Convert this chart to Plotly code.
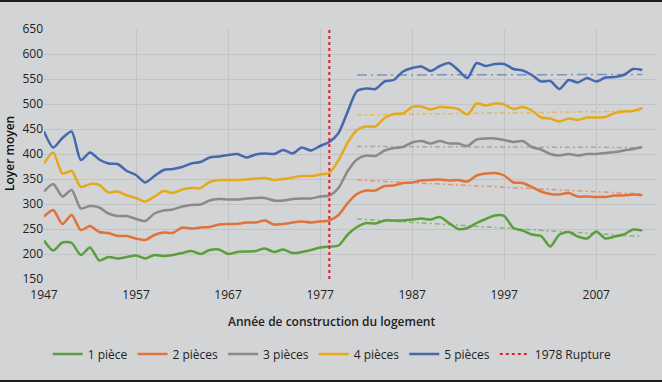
import plotly.graph_objects as go

years = list(range(1947, 2013))

piece1 = [227, 207, 223, 222, 198, 213, 187, 194, 191, 194, 197, 191, 198, 196, 198, 202, 206, 200, 208, 209,
          200, 204, 205, 206, 211, 204, 209, 202, 204, 208, 213, 215, 217, 239, 254, 262, 261, 267, 267, 267,
          269, 271, 269, 274, 262, 250, 252, 262, 270, 277, 276, 252, 247, 239, 236, 215, 239, 244, 235, 231,
          245, 231, 235, 239, 249, 247]
piece2 = [275, 288, 260, 278, 248, 256, 244, 242, 236, 236, 231, 228, 238, 243, 242, 253, 251, 253, 254, 259,
          260, 260, 263, 263, 267, 259, 260, 263, 265, 263, 265, 267, 278, 302, 320, 327, 327, 336, 337, 342,
          343, 347, 348, 349, 347, 348, 345, 357, 361, 362, 357, 343, 342, 334, 325, 320, 319, 322, 315, 315,
          314, 314, 317, 317, 319, 318]
piece3 = [325, 340, 315, 328, 291, 296, 293, 281, 276, 276, 270, 266, 281, 287, 289, 295, 298, 299, 307, 310,
          309, 309, 311, 312, 312, 307, 307, 310, 311, 311, 315, 317, 332, 366, 389, 397, 396, 407, 412, 414,
          423, 426, 421, 426, 421, 421, 416, 429, 431, 431, 428, 424, 426, 414, 409, 400, 397, 400, 397, 400,
          400, 402, 404, 407, 410, 414]
piece4 = [381, 403, 361, 366, 334, 340, 338, 323, 325, 317, 312, 305, 315, 326, 322, 329, 332, 332, 344, 348,
          348, 348, 349, 351, 352, 348, 350, 353, 356, 356, 359, 362, 388, 423, 448, 455, 455, 472, 480, 481,
          494, 495, 489, 494, 493, 490, 479, 501, 497, 501, 499, 490, 494, 487, 473, 471, 465, 471, 468, 473,
          473, 474, 482, 485, 486, 492]
piece5 = [445, 413, 432, 445, 388, 403, 389, 381, 380, 366, 358, 343, 356, 368, 370, 374, 381, 384, 393, 395,
          398, 400, 393, 399, 401, 400, 408, 401, 413, 407, 416, 424, 442, 485, 526, 531, 530, 545, 548, 565,
          572, 575, 566, 576, 582, 568, 552, 582, 576, 580, 580, 570, 567, 558, 545, 546, 530, 548, 543, 552,
          545, 553, 554, 558, 570, 568]

series_names = ["1 pièce", "2 pièces", "3 pièces", "4 pièces", "5 pièces"]
series_values = [piece1, piece2, piece3, piece4, piece5]
colors = ["#5B9E3C", "#E0733A", "#8A8A8A", "#E6A91C", "#4568AE"]

trend_years = [1981, 2012]
trend_values = [[270, 235], [348, 320], [415, 413], [478, 486], [558, 559]]

rupture_year = 1978
rupture_range = [150, 650]

bg = "#D3D4D6"
fig = go.Figure()

for name, vals, col in zip(series_names, series_values, colors):
    fig.add_trace(go.Scatter(x=years, y=vals, mode="lines", name=name,
                             line=dict(color=col, width=2.5, shape="spline", smoothing=0.7)))

for i, (tv, col) in enumerate(zip(trend_values, colors)):
    dash = "10px,4px,2px,4px" if i == 4 else "5px,3px,2px,3px"
    fig.add_trace(go.Scatter(x=trend_years, y=tv, mode="lines", showlegend=False,
                             opacity=0.6, line=dict(color=col, width=1.5, dash=dash)))

fig.add_trace(go.Scatter(x=[rupture_year, rupture_year], y=rupture_range, mode="lines",
                         name="1978 Rupture", line=dict(color="#E0202A", width=2, dash="dot")))

font = "Open Sans, Noto Sans, sans-serif"
fig.update_layout(
    width=662, height=382,
    margin=dict(l=44, r=5, t=29, b=103, autoexpand=False),
    paper_bgcolor=bg, plot_bgcolor=bg,
    font=dict(family=font, size=12, color="#222222"),
    showlegend=True,
    legend=dict(orientation="h", x=0.006, xanchor="left", y=-0.30, yanchor="middle",
                bgcolor="rgba(0,0,0,0)", font=dict(size=12, color="#222222"),
                itemwidth=30, tracegroupgap=0),
    xaxis=dict(range=[1947, 2013.6], tick0=1947, dtick=10, showgrid=True,
               gridcolor="#C2C3C5", gridwidth=1, zeroline=False, showline=False,
               ticks="", ticklabelstandoff=7, automargin=False,
               tickfont=dict(size=12, color="#222222")),
    yaxis=dict(range=[150, 650], tick0=150, dtick=50, showgrid=True,
               gridcolor="#C2C3C5", gridwidth=1, zeroline=False, showline=False,
               ticks="", automargin=False,
               tickfont=dict(size=12, color="#222222")),
    annotations=[
        dict(text="Année de construction du logement", xref="paper", yref="paper",
             x=(331 - 44) / 613, y=-(321 - 279) / 250, xanchor="center", yanchor="middle",
             showarrow=False, font=dict(size=12, color="#222222", weight=600)),
        dict(text="Loyer moyen", xref="paper", yref="paper", textangle=-90,
             x=-(44 - 9) / 613, y=0.5, xanchor="center", yanchor="middle",
             showarrow=False, font=dict(size=12, color="#111111", weight=600)),
    ],
    shapes=[
        dict(type="rect", xref="paper", yref="paper", x0=-0.1, x1=1.1,
             y0=1 + 27 / 250, y1=1.3, fillcolor="#1E1E1E", line=dict(width=0), layer="above"),
        dict(type="rect", xref="paper", yref="paper", x0=-0.1, x1=1.1,
             y0=-0.6, y1=-(380 - 279) / 250, fillcolor="#1E1E1E", line=dict(width=0), layer="above"),
    ],
)

fig.write_html("out.html", config={"displayModeBar": False},
               post_script="document.body.style.margin='0';document.body.style.padding='0';")
